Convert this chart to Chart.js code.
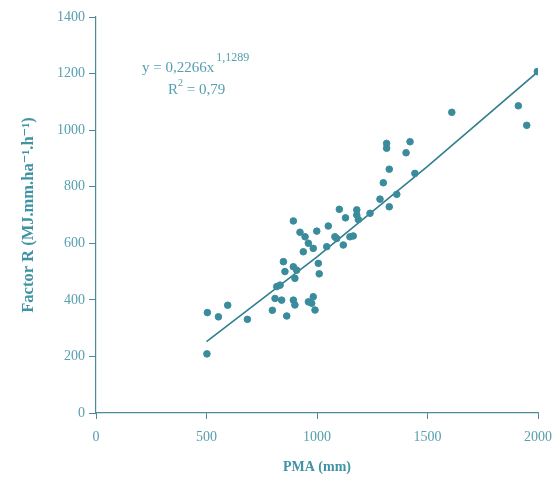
<!DOCTYPE html>
<html>
<head>
<meta charset="utf-8">
<script src="https://cdn.jsdelivr.net/npm/chart.js@4.4.1/dist/chart.umd.min.js"></script>
<style>
  html, body { margin: 0; padding: 0; background: #fff; }
  #wrap { width: 559px; height: 479px; }
</style>
</head>
<body>
<div id="wrap"><canvas id="scatter-chart" width="559" height="479"></canvas></div>
<script>
// observed points (PMA in mm, factor R)
const pmaValues = [502, 504, 554, 596, 685, 798, 810, 818, 833, 840, 848, 855, 863, 893, 893, 893, 900, 900,
  908, 923, 938, 946, 961, 961, 976, 983, 983, 991, 999, 1006, 1010, 1044, 1051, 1081, 1089, 1101, 1119,
  1129, 1149, 1164, 1180, 1180, 1187, 1240, 1285, 1300, 1315, 1315, 1327, 1327, 1361, 1403, 1421, 1443,
  1610, 1911, 1949, 1997];
const factorR = [209, 355, 340, 381, 331, 363, 405, 447, 452, 399, 535, 500, 343, 517, 679, 399, 382, 476,
  505, 639, 570, 623, 600, 393, 388, 411, 582, 364, 643, 529, 492, 588, 661, 623, 617, 720, 594,
  690, 623, 626, 718, 700, 684, 706, 756, 814, 953, 936, 862, 729, 773, 920, 959, 847,
  1063, 1086, 1017, 1207];

// fitted power curve read at a few spots along the line
const trendPMA = [500, 1000, 1500, 2000];
const trendR = [252, 552, 872, 1207];

const xTicks = [0, 500, 1000, 1500, 2000];
const yTicks = [0, 200, 400, 600, 800, 1000, 1200, 1400];

const teal = '#3a8c9c';
const tealText = '#569fae';
const axisColor = '#4a8a99';
const serif = "'Liberation Serif', 'DejaVu Serif', serif";

const toXY = (xs, ys) => xs.map((x, i) => ({ x: x, y: ys[i] }));

const equationLabel = {
  id: 'equationLabel',
  afterDraw(chart) {
    const ctx = chart.ctx;
    ctx.save();
    ctx.fillStyle = tealText;
    ctx.textBaseline = 'alphabetic';
    ctx.font = '15px ' + serif;
    ctx.fillText('y = 0,2266x', 142, 72);
    let w = ctx.measureText('y = 0,2266x').width;
    ctx.font = '12px ' + serif;
    ctx.fillText('1,1289', 142 + w + 2, 61);
    ctx.font = '15px ' + serif;
    ctx.fillText('R', 168, 94);
    w = ctx.measureText('R').width;
    ctx.font = '10px ' + serif;
    ctx.fillText('2', 168 + w, 86);
    ctx.font = '15px ' + serif;
    ctx.fillText(' = 0,79', 168 + w + 5, 94);
    ctx.restore();
  }
};

let chart = new Chart(document.getElementById("scatter-chart"), {
  type: 'scatter',
  data: {
    datasets: [
      {
        label: 'Factor R',
        data: toXY(pmaValues, factorR),
        backgroundColor: teal,
        borderColor: teal,
        pointRadius: 3.3,
        pointHoverRadius: 3.3
      },
      {
        label: 'Trend',
        type: 'line',
        data: toXY(trendPMA, trendR),
        borderColor: '#2f7f8e',
        borderWidth: 1.6,
        pointRadius: 0,
        fill: false,
        tension: 0
      }
    ]
  },
  options: {
    responsive: false,
    animation: false,
    layout: { padding: { left: 0, right: 21, top: 17, bottom: 0 } },
    plugins: {
      legend: { display: false },
      tooltip: { enabled: false }
    },
    scales: {
      x: {
        type: 'linear',
        min: 0,
        max: 2000,
        afterFit: (s) => { s.height = 66; s.paddingLeft = 0; s.paddingRight = 0; },
        afterBuildTicks: (s) => { s.ticks = xTicks.map(v => ({ value: v })); },
        border: { color: axisColor, width: 1.2 },
        grid: { drawOnChartArea: false, tickLength: 6, color: axisColor },
        ticks: { color: tealText, padding: 10, font: { family: serif, size: 14 }, callback: (v) => String(v) },
        title: {
          display: true,
          text: 'PMA (mm)',
          color: '#3f93a4',
          font: { family: serif, size: 14, weight: 'bold' },
          padding: { top: 0, bottom: 3 }
        }
      },
      y: {
        type: 'linear',
        min: 0,
        max: 1400,
        afterFit: (s) => { s.width = 96; s.paddingTop = 0; s.paddingBottom = 0; },
        afterBuildTicks: (s) => { s.ticks = yTicks.map(v => ({ value: v })); },
        border: { color: axisColor, width: 1.2 },
        grid: { drawOnChartArea: false, tickLength: 7, color: axisColor },
        ticks: { color: tealText, padding: 4, font: { family: serif, size: 14 }, callback: (v) => String(v) },
        title: {
          display: true,
          text: 'Factor R (MJ.mm.ha⁻¹.h⁻¹)',
          color: '#3f93a4',
          font: { family: serif, size: 16.5, weight: 'bold' },
          padding: { top: 19, bottom: 0 }
        }
      }
    }
  },
  plugins: [equationLabel]
});
</script>
</body>
</html>
